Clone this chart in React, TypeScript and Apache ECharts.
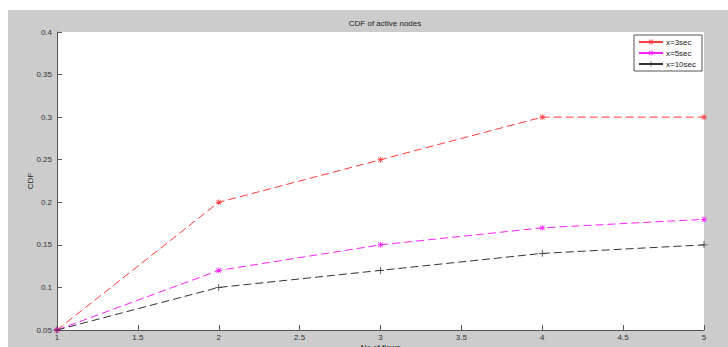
import React, { useEffect, useRef } from "react";
import * as echarts from "echarts";

const xValues = [1, 2, 3, 4, 5];
const seriesNames = ["x=3sec", "x=5sec", "x=10sec"];
const cdf3sec = [0.05, 0.2, 0.25, 0.3, 0.3];
const cdf5sec = [0.05, 0.12, 0.15, 0.17, 0.18];
const cdf10sec = [0.05, 0.1, 0.12, 0.14, 0.15];
const titleText = "CDF of active nodes";
const xName = "No of flows";
const yName = "CDF";

const STAR =
  "path://M4.4,0H5.6V10H4.4ZM0,4.4H10V5.6H0ZM1.5,0.7L9.3,8.5L8.5,9.3L0.7,1.5ZM8.5,0.7L9.3,1.5L1.5,9.3L0.7,8.5Z";
const PLUS = "path://M4.45,0H5.55V10H4.45ZM0,4.45H10V5.55H0Z";

const FONT = "Liberation Sans, Arial, sans-serif";

export default function App() {
  const ref = useRef<HTMLDivElement>(null);
  useEffect(() => {
    if (!ref.current) return;
    const chart = echarts.init(ref.current, undefined, { renderer: "svg" });
    const mk = (name: string, data: number[], color: string, symbol: string, size: number) => ({
      name,
      type: "line",
      data: xValues.map((x, i) => [x, data[i]]),
      symbol,
      symbolSize: size,
      showSymbol: true,
      itemStyle: { color },
      lineStyle: { color, width: 1, type: [8, 4] },
      emphasis: { disabled: true },
    });
    chart.setOption({
      animation: false,
      textStyle: { fontFamily: FONT },
      title: {
        text: titleText,
        left: 380,
        textAlign: "center",
        top: 14,
        textStyle: { fontSize: 8, fontWeight: "normal", color: "#222", fontFamily: FONT },
      },
      grid: {
        left: 57,
        top: 32,
        right: 24,
        bottom: 17,
        show: true,
        backgroundColor: "#ffffff",
        borderWidth: 0,
        containLabel: false,
        outerBoundsMode: "none",
      },
      legend: {
        orient: "vertical",
        left: 634,
        top: 35,
        width: 67,
        padding: [3, 6, 3, 4],
        itemWidth: 24,
        itemHeight: 7,
        itemGap: 3,
        backgroundColor: "#ffffff",
        borderColor: "#555",
        borderWidth: 1,
        borderRadius: 0,
        lineStyle: { type: "solid" },
        textStyle: { fontSize: 8, color: "#222", fontFamily: FONT, padding: [0, 0, 0, -2] },
        data: seriesNames,
      },
      xAxis: {
        type: "value",
        min: 1,
        max: 5,
        interval: 0.5,
        name: xName,
        nameLocation: "middle",
        nameGap: 13,
        nameMoveOverlap: false,
        nameTextStyle: { fontSize: 8, color: "#222", fontFamily: FONT },
        axisLine: { show: true, onZero: false, lineStyle: { color: "#555", width: 1 } },
        axisTick: { show: true, inside: true, length: 5, lineStyle: { color: "#555" } },
        axisLabel: { fontSize: 8, color: "#333", margin: 3, fontFamily: FONT },
        splitLine: { show: false },
      },
      yAxis: {
        type: "value",
        min: 0.05,
        max: 0.4,
        interval: 0.05,
        name: yName,
        nameLocation: "middle",
        nameGap: 23,
        nameMoveOverlap: false,
        nameRotate: 90,
        nameTextStyle: { fontSize: 8, color: "#222", fontFamily: FONT },
        axisLine: { show: true, onZero: false, lineStyle: { color: "#555", width: 1 } },
        axisTick: { show: true, inside: true, length: 5, lineStyle: { color: "#555" } },
        axisLabel: {
          fontSize: 8,
          color: "#333",
          margin: 5,
          fontFamily: FONT,
          formatter: (v: number) => String(Math.round(v * 100) / 100),
        },
        splitLine: { show: false },
      },
      series: [
        mk(seriesNames[0], cdf3sec, "#ff3b3b", STAR, 6),
        mk(seriesNames[1], cdf5sec, "#ff22ff", STAR, 6),
        mk(seriesNames[2], cdf10sec, "#333333", PLUS, 7),
      ],
    });
    return () => chart.dispose();
  }, []);

  return (
    <div style={{ position: "fixed", left: 0, top: 0, width: 728, height: 347, background: "#ffffff", overflow: "hidden" }}>
      <div style={{ position: "absolute", left: 8, top: 10, width: 720, height: 337, background: "#cccccc" }} />
      <div ref={ref} style={{ position: "absolute", left: 0, top: 0, width: 728, height: 347 }} />
    </div>
  );
}
